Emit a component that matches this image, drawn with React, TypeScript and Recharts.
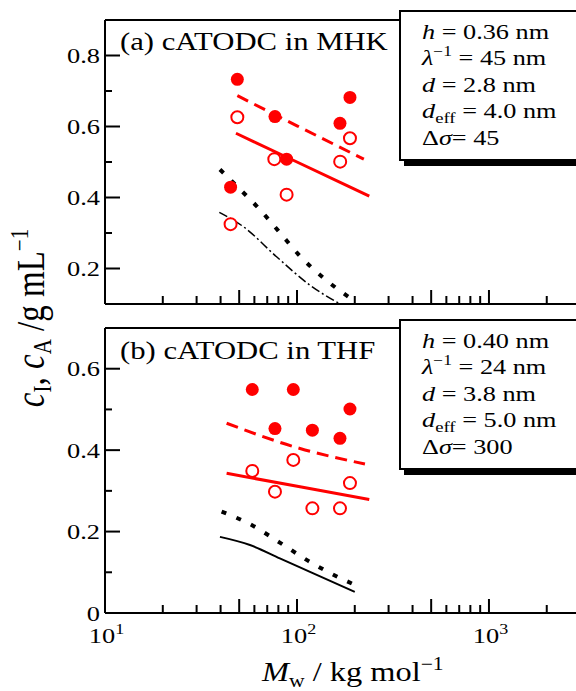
import React from 'react';
import { ComposedChart, Line, Scatter, XAxis, YAxis, ReferenceLine } from 'recharts';

const FONT = "'Liberation Serif', 'Times New Roman', Times, serif";
const RED = '#ff0000';

// x axis (log, M_w in kg/mol)
const X_MIN = 10;
const X_MAX = 2980;
const X_LABEL_TICKS = [10, 100, 1000];
const X_MAJOR_TICKS = [50, 100, 500, 1000];
const X_MINOR_TICKS = [20, 30, 40, 60, 70, 80, 90, 200, 300, 400, 600, 700, 800, 900, 2000];
const X_EXP: Record<number, string> = { 10: '1', 100: '2', 1000: '3' };

const Y_MAJOR_A = [0.2, 0.4, 0.6, 0.8];
const Y_MINOR_A = [0.3, 0.5, 0.7];
const Y_MAJOR_B = [0, 0.2, 0.4, 0.6];
const Y_MINOR_B = [0.1, 0.3, 0.5];

// (a) cATODC in MHK
const A_FILLED_M = [45.1, 48.9, 76.8, 88.3, 167.5, 188.8];
const A_FILLED_C = [0.429, 0.733, 0.628, 0.508, 0.609, 0.682];
const A_OPEN_M = [45.1, 48.9, 76.2, 88.3, 167.9, 188.8];
const A_OPEN_C = [0.325, 0.626, 0.508, 0.408, 0.501, 0.567];
const A_DASH_M = [48.9, 100, 223];
const A_DASH_C = [0.687, 0.602, 0.508];
const A_SOLID_M = [48.1, 100, 238];
const A_SOLID_C = [0.581, 0.5, 0.404];
const A_DOT_M = [39.7, 52.5, 61.6, 80, 103.7, 139.9, 196];
const A_DOT_C = [0.479, 0.414, 0.376, 0.306, 0.235, 0.17, 0.111];
const A_DASHDOT_M = [39.4, 52.5, 78.3, 116.9, 167.5];
const A_DASHDOT_C = [0.358, 0.318, 0.233, 0.153, 0.1];

// (b) cATODC in THF
const B_FILLED_M = [58.5, 76.8, 95.7, 120.3, 167.5, 188.8];
const B_FILLED_C = [0.549, 0.453, 0.549, 0.449, 0.429, 0.501];
const B_OPEN_M = [58.5, 76.8, 95.7, 120.3, 167.5, 188.8];
const B_OPEN_C = [0.349, 0.298, 0.376, 0.257, 0.257, 0.319];
const B_DASH_M = [43, 103.7, 226];
const B_DASH_C = [0.466, 0.404, 0.366];
const B_SOLID_M = [43, 103.7, 238];
const B_SOLID_C = [0.343, 0.31, 0.279];
const B_DOT_M = [40.5, 58.1, 81.4, 114.5, 164, 196];
const B_DOT_C = [0.249, 0.216, 0.173, 0.128, 0.088, 0.071];
const B_BLACK_M = [39.7, 56.9, 81.4, 116.9, 200];
const B_BLACK_C = [0.187, 0.167, 0.134, 0.101, 0.052];

const pts = (m: number[], c: number[]) => m.map((x, i) => ({ m: x, v: c[i] }));

const FilledDot = (p: any) => <circle cx={p.cx} cy={p.cy} r={6.5} fill={RED} />;
const OpenDot = (p: any) => <circle cx={p.cx} cy={p.cy} r={6} fill="#fff" stroke={RED} strokeWidth={2} />;

// plot geometry shared by both panels (chart margins below)
const PLOT_L = 105;
const PLOT_W = 475;
const sx = (v: number) => PLOT_L + (PLOT_W * Math.log(v / X_MIN)) / Math.log(X_MAX / X_MIN);

function XLabel(props: any) {
  const { x, y, payload } = props;
  const exp = X_EXP[payload.value];
  return (
    <text transform={`translate(${x + 1.5},${y}) scale(1.2,1)`} textAnchor="middle" fontSize={22} fontFamily={FONT} fill="#000">
      10<tspan dy={-9} fontSize={15}>{exp}</tspan>
    </text>
  );
}

function YLabel(props: any) {
  const { x, y, payload } = props;
  const v = payload.value;
  return (
    <text transform={`translate(${x},${y + 7.5}) scale(1.2,1)`} textAnchor="end" fontSize={22} fontFamily={FONT} fill="#000">
      {v === 0 ? '0' : v.toFixed(1)}
    </text>
  );
}

const axisStroke = { stroke: '#000', strokeWidth: 2 };

function Panel(props: any) {
  const { height, margin, xHeight, yDomain, yMajor, showX, series } = props;
  return (
    <ComposedChart width={600} height={height} margin={margin}>
      <XAxis dataKey="m" type="number" scale="log" domain={[X_MIN, X_MAX]} allowDataOverflow interval={0}
        ticks={X_LABEL_TICKS} tickSize={0} tickMargin={30} height={xHeight} axisLine={axisStroke} tickLine={false}
        tick={showX ? (p: any) => <XLabel {...p} /> : false} />
      <YAxis dataKey="v" type="number" domain={yDomain} allowDataOverflow interval={0} ticks={yMajor}
        tickSize={0} tickMargin={5} width={105} axisLine={axisStroke} tickLine={false} tick={(p: any) => <YLabel {...p} />} />
      <ReferenceLine y={yDomain[1]} stroke="#000" strokeWidth={2} />
      <Line data={series.dot} dataKey="v" type="monotone" stroke="#000" strokeWidth={4} strokeDasharray="5 11" dot={false} activeDot={false} isAnimationActive={false} />
      <Line data={series.black} dataKey="v" type="monotone" stroke="#000" strokeWidth={series.blackWidth} strokeDasharray={series.blackDash} dot={false} activeDot={false} isAnimationActive={false} />
      <Line data={series.dash} dataKey="v" type="monotone" stroke={RED} strokeWidth={3} strokeDasharray="12 7" dot={false} activeDot={false} isAnimationActive={false} />
      <Line data={series.solid} dataKey="v" type="monotone" stroke={RED} strokeWidth={3} dot={false} activeDot={false} isAnimationActive={false} />
      <Scatter data={series.open} dataKey="v" shape={OpenDot} isAnimationActive={false} />
      <Scatter data={series.filled} dataKey="v" shape={FilledDot} isAnimationActive={false} />
    </ComposedChart>
  );
}

// inward ticks of one panel frame (top/bottom in page px, y domain)
function FrameTicks({ top, bottom, yDomain, yMajor, yMinor }: any) {
  const [y0, y1] = yDomain;
  const sy = (v: number) => bottom - ((bottom - top) * (v - y0)) / (y1 - y0);
  const s = { stroke: '#000', strokeWidth: 2 };
  return (
    <g>
      {X_MAJOR_TICKS.map((t) => <line key={`M${t}`} x1={sx(t)} x2={sx(t)} y1={bottom} y2={bottom - 14} {...s} />)}
      {X_MINOR_TICKS.map((t) => <line key={`m${t}`} x1={sx(t)} x2={sx(t)} y1={bottom} y2={bottom - 8} {...s} />)}
      {yMajor.filter((t: number) => t > y0).map((t: number) => <line key={`yM${t}`} x1={PLOT_L} x2={PLOT_L + 15} y1={sy(t)} y2={sy(t)} {...s} />)}
      {yMinor.map((t: number) => <line key={`ym${t}`} x1={PLOT_L} x2={PLOT_L + 7} y1={sy(t)} y2={sy(t)} {...s} />)}
    </g>
  );
}

function ParamBox({ top, lines }: { top: number; lines: React.ReactNode[] }) {
  return (
    <g>
      <rect x={404} y={top + 5} width={200} height={151} fill="#000" />
      <rect x={400} y={top + 1} width={200} height={149} fill="#fff" stroke="#000" strokeWidth={2} />
      {lines.map((ln, i) => (
        <text key={i} transform={`translate(422,${top + 28.5 + i * 26.5}) scale(1.25,1)`} fontSize={21} fontFamily={FONT} fill="#000">
          {ln}
        </text>
      ))}
    </g>
  );
}

const it = (s: string) => <tspan fontStyle="italic">{s}</tspan>;

function paramLines(h: string, lam: string, d: string, deff: string, ds: string) {
  return [
    <>{it('h')} = {h} nm</>,
    <>{it('λ')}<tspan dy={-9} fontSize={14}>−1</tspan><tspan dy={9}> = {lam} nm</tspan></>,
    <>{it('d')} = {d} nm</>,
    <>{it('d')}<tspan dy={5} fontSize={15}>eff</tspan><tspan dy={-5}> = {deff} nm</tspan></>,
    <>Δ{it('σ')}= {ds}</>,
  ];
}

export default function App() {
  const seriesA = {
    filled: pts(A_FILLED_M, A_FILLED_C),
    open: pts(A_OPEN_M, A_OPEN_C),
    dash: pts(A_DASH_M, A_DASH_C),
    solid: pts(A_SOLID_M, A_SOLID_C),
    dot: pts(A_DOT_M, A_DOT_C),
    black: pts(A_DASHDOT_M, A_DASHDOT_C),
    blackWidth: 1.5,
    blackDash: '9 3 2 3',
  };
  const seriesB = {
    filled: pts(B_FILLED_M, B_FILLED_C),
    open: pts(B_OPEN_M, B_OPEN_C),
    dash: pts(B_DASH_M, B_DASH_C),
    solid: pts(B_SOLID_M, B_SOLID_C),
    dot: pts(B_DOT_M, B_DOT_C),
    black: pts(B_BLACK_M, B_BLACK_C),
    blackWidth: 2,
    blackDash: undefined,
  };
  return (
    <div style={{ position: 'absolute', left: 0, top: 0, width: 576, height: 691, overflow: 'hidden', background: '#fff' }}>
      <div style={{ position: 'absolute', left: 0, top: 0 }}>
        <Panel height={310} margin={{ top: 20, right: 20, bottom: 5, left: 0 }} xHeight={1}
          yDomain={[0.1, 0.9]} yMajor={Y_MAJOR_A} showX={false} series={seriesA} />
      </div>
      <div style={{ position: 'absolute', left: 0, top: 310 }}>
        <Panel height={381} margin={{ top: 18, right: 20, bottom: 0, left: 0 }} xHeight={78}
          yDomain={[0, 0.7]} yMajor={Y_MAJOR_B} showX={true} series={seriesB} />
      </div>
      <svg width={576} height={691} style={{ position: 'absolute', left: 0, top: 0, pointerEvents: 'none' }}>
        <FrameTicks top={20} bottom={304} yDomain={[0.1, 0.9]} yMajor={Y_MAJOR_A} yMinor={Y_MINOR_A} />
        <FrameTicks top={328} bottom={613} yDomain={[0, 0.7]} yMajor={Y_MAJOR_B} yMinor={Y_MINOR_B} />
        <text transform="translate(120,50) scale(1.18,1)" fontSize={26} fontFamily={FONT} fill="#000">(a) cATODC in MHK</text>
        <text transform="translate(120,359) scale(1.18,1)" fontSize={26} fontFamily={FONT} fill="#000">(b) cATODC in THF</text>
        <ParamBox top={10} lines={paramLines('0.36', '45', '2.8', '4.0', '45')} />
        <ParamBox top={319} lines={paramLines('0.40', '24', '3.8', '5.0', '300')} />
        <text transform="translate(262,681) scale(1.2,1)" fontSize={27} fontFamily={FONT} fill="#000">
          {it('M')}<tspan dy={6} fontSize={18}>w</tspan><tspan dy={-6}> / kg mol</tspan><tspan dy={-11} fontSize={18}>−1</tspan>
        </text>
        <text transform="translate(44,318) rotate(-90) scale(1,1.2)" textAnchor="middle" fontSize={33} fontFamily={FONT} fill="#000">
          {it('c')}<tspan dy={6} fontSize={21}>I</tspan><tspan dy={-6}>, </tspan>{it('c')}<tspan dy={6} fontSize={21}>A</tspan><tspan dy={-6}> /g mL</tspan><tspan dy={-13} fontSize={21}>−1</tspan>
        </text>
      </svg>
    </div>
  );
}
